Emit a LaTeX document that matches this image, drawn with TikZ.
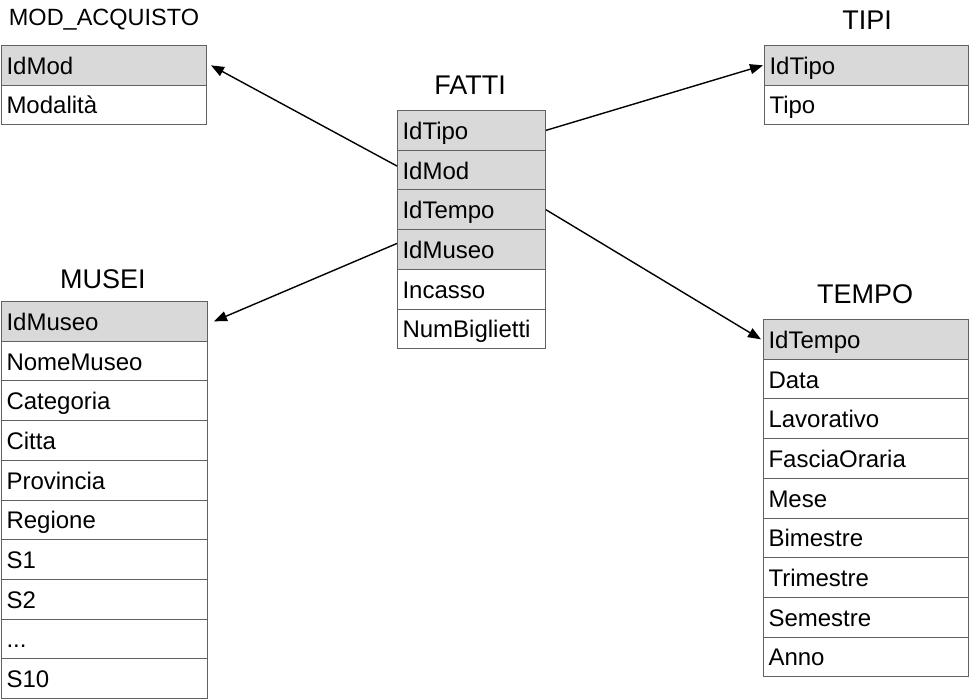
\documentclass[tikz,border=0pt]{standalone}
\usepackage{fontspec}
\setmainfont{Liberation Sans}
\usepackage{tikz}
\usetikzlibrary{arrows.meta,positioning,calc}

\begin{document}
\begin{tikzpicture}[x=1pt, y=-1pt, >={Triangle[length=13pt,width=10pt]}, semithick,
        row/.style={draw=black!62,line width=1pt,anchor=north west,inner xsep=5pt,inner ysep=0pt,
          minimum height=39.7pt,text height=23pt,text depth=5pt,font=\fontsize{24}{28}\selectfont},
        keyrow/.style={row,fill=black!15},
        title/.style={font=\fontsize{27}{32}\selectfont,inner sep=0pt}]
        \useasboundingbox (0,0) rectangle (970,699);
        % titles
        \node[title,font=\fontsize{23.5}{28}\selectfont] at (104,20) (tmod) {MOD\_ACQUISTO};
        \node[title] at (470,85)  (tfatti) {FATTI};
        \node[title] at (867,20)  (ttipi) {TIPI};
        \node[title] at (103,279) (tmusei) {MUSEI};
        \node[title] at (865,294) (ttempo) {TEMPO};
        % MOD_ACQUISTO
        \node[keyrow,text width=195pt] at (1,45)    (mod1) {IdMod};
        \node[row,text width=195pt]    at (1,84.5)  (mod2) {Modalità};
        % FATTI
        \node[keyrow,text width=138pt] at (397,110)   (fatti1) {IdTipo};
        \node[keyrow,text width=138pt] at (397,149.7) (fatti2) {IdMod};
        \node[keyrow,text width=138pt] at (397,189.4) (fatti3) {IdTempo};
        \node[keyrow,text width=138pt] at (397,229.1) (fatti4) {IdMuseo};
        \node[row,text width=138pt]    at (397,268.8) (fatti5) {Incasso};
        \node[row,text width=138pt]    at (397,308.5) (fatti6) {NumBiglietti};
        % TIPI
        \node[keyrow,text width=194pt] at (764,45)   (tipi1) {IdTipo};
        \node[row,text width=194pt]    at (764,84.5) (tipi2) {Tipo};
        % MUSEI
        \node[keyrow,text width=196pt] at (1,301)   (musei1) {IdMuseo};
        \node[row,text width=196pt]    at (1,340.7) (musei2) {NomeMuseo};
        \node[row,text width=196pt]    at (1,380.4) (musei3) {Categoria};
        \node[row,text width=196pt]    at (1,420.1) (musei4) {Citta};
        \node[row,text width=196pt]    at (1,459.8) (musei5) {Provincia};
        \node[row,text width=196pt]    at (1,499.5) (musei6) {Regione};
        \node[row,text width=196pt]    at (1,539.2) (musei7) {S1};
        \node[row,text width=196pt]    at (1,578.9) (musei8) {S2};
        \node[row,text width=196pt]    at (1,618.6) (musei9) {...};
        \node[row,text width=196pt]    at (1,658.3) (musei10) {S10};
        % TEMPO
        \node[keyrow,text width=195pt] at (763,319)   (tempo1) {IdTempo};
        \node[row,text width=195pt]    at (763,358.7) (tempo2) {Data};
        \node[row,text width=195pt]    at (763,398.4) (tempo3) {Lavorativo};
        \node[row,text width=195pt]    at (763,438.1) (tempo4) {FasciaOraria};
        \node[row,text width=195pt]    at (763,477.8) (tempo5) {Mese};
        \node[row,text width=195pt]    at (763,517.5) (tempo6) {Bimestre};
        \node[row,text width=195pt]    at (763,557.2) (tempo7) {Trimestre};
        \node[row,text width=195pt]    at (763,596.9) (tempo8) {Semestre};
        \node[row,text width=195pt]    at (763,636.6) (tempo9) {Anno};
        % links
        \draw[line width=1.4pt,->] ([yshift=4pt]fatti2.west) to ([xshift=4pt]mod1.east);
        \draw[line width=1.4pt,->] (fatti1.east) to ([xshift=-1pt]tipi1.west);
        \draw[line width=1.4pt,->] ([yshift=6pt]fatti4.west) to ([xshift=6pt]musei1.east);
        \draw[line width=1.4pt,->] (fatti3.east) to ([xshift=-2pt]tempo1.west);
      \end{tikzpicture}
\end{document}
